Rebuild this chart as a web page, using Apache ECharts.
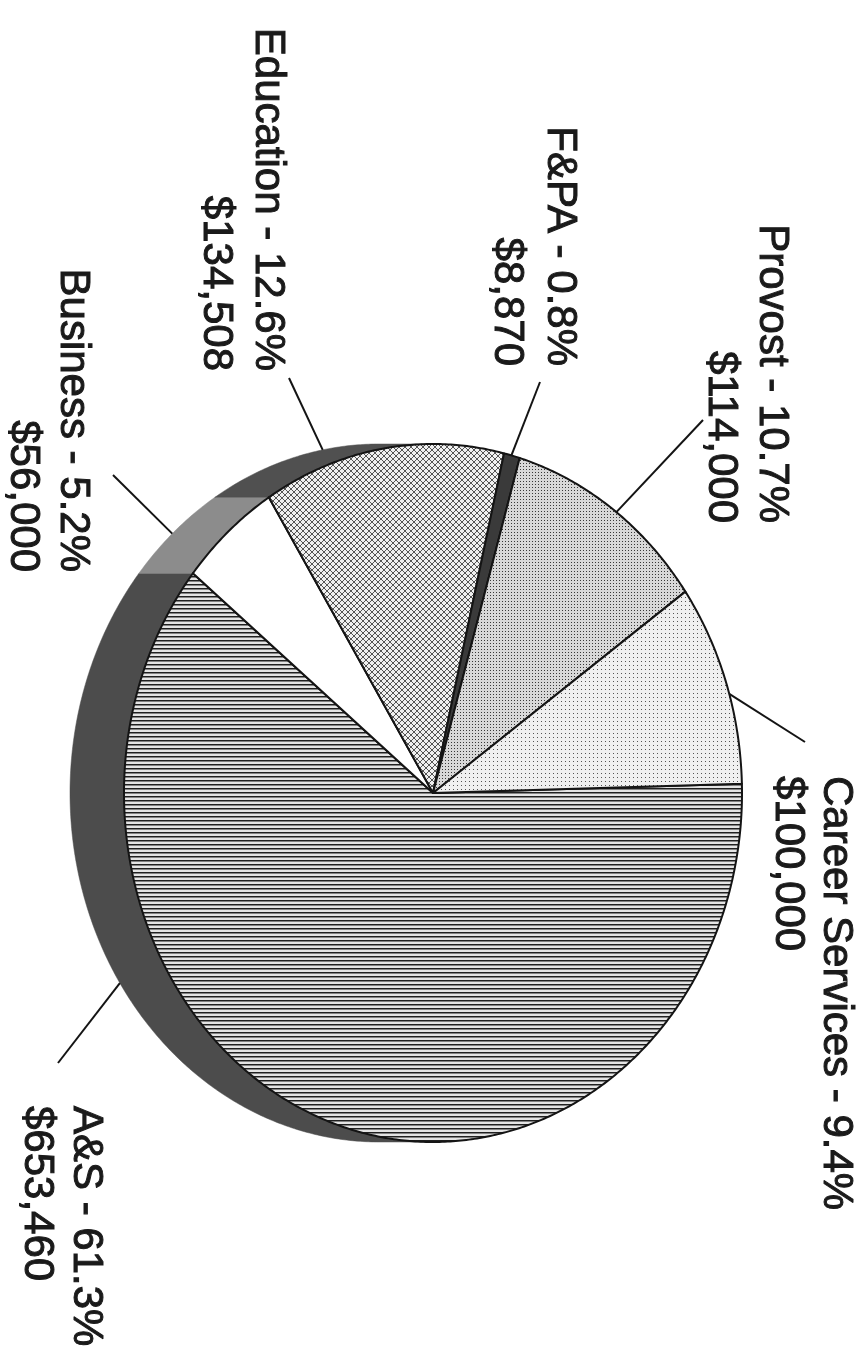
<!DOCTYPE html>
<html>
<head>
<meta charset="utf-8">
<script src="https://cdn.jsdelivr.net/npm/echarts/dist/echarts.min.js"></script>
<style>
  html, body { margin: 0; padding: 0; background: #fff; }
  #chart { width: 867px; height: 1362px; }
</style>
</head>
<body>
<div id="chart"></div>
<script>
// Funding by unit
const categories = ['A&S', 'Business', 'Education', 'F&PA', 'Provost', 'Career Services'];
const amounts = [653460, 56000, 134508, 8870, 114000, 100000];

// Pie geometry (the chart is laid out sideways, reading top to bottom)
const START_DEG = -1.5;   // first slice edge, clockwise from page right
const DEPTH = 54;         // thickness of the extruded rim, px

// Leader lines and label anchors, px
const labelLayout = {
  'A&S':             { rimDeg: 147,   end: [58, 1063], x1: 86,  x2: 37,  y: 1106, align: 'left'  },
  'Business':        { rimDeg: 228,   end: [113, 475], x1: 73,  x2: 23,  y: 572,  align: 'right' },
  'Education':       { rimDeg: 259.5, end: [289, 378], x1: 268, x2: 216, y: 371,  align: 'right' },
  'F&PA':            { rimDeg: 284.7, end: [540, 382], x1: 560, x2: 507, y: 366,  align: 'right' },
  'Provost':         { rimDeg: 306.4, end: [703, 420], x1: 772, x2: 721, y: 523,  align: 'right' },
  'Career Services': { rimDeg: 343.5, end: [805, 742], x1: 836, x2: 788, y: 776,  align: 'left'  }
};

function makePattern(w, h, draw) {
  const c = document.createElement('canvas');
  c.width = w; c.height = h;
  draw(c.getContext('2d'), w, h);
  return { image: c, repeat: 'repeat' };
}

const fills = {
  'A&S': makePattern(4, 4, (g) => {
    g.fillStyle = '#e4e4e4'; g.fillRect(0, 0, 4, 4);
    g.fillStyle = '#202020'; g.fillRect(0, 0, 4, 1);
    g.fillStyle = '#828282'; g.fillRect(0, 1, 4, 1);
  }),
  'Business': '#ffffff',
  'Education': makePattern(6, 6, (g) => {
    g.fillStyle = '#f0f0f0'; g.fillRect(0, 0, 6, 6);
    g.strokeStyle = '#555555'; g.lineWidth = 1;
    g.beginPath(); g.moveTo(0, 0); g.lineTo(6, 6); g.moveTo(6, 0); g.lineTo(0, 6); g.stroke();
  }),
  'F&PA': '#3a3a3a',
  'Provost': makePattern(3, 3, (g) => {
    g.fillStyle = '#d8d8d8'; g.fillRect(0, 0, 3, 3);
    g.fillStyle = '#383838'; g.fillRect(1, 1, 1, 1);
  }),
  'Career Services': makePattern(4, 4, (g) => {
    g.fillStyle = '#f0f0f0'; g.fillRect(0, 0, 4, 4);
    g.fillStyle = '#555555'; g.fillRect(1, 1, 1, 1);
  })
};
const wallColors = { 'A&S': '#4c4c4c', 'Business': '#8c8c8c', 'Education': '#505050' };

const total = amounts.reduce((a, b) => a + b, 0);
const spans = [];
let acc = START_DEG;
amounts.forEach((v) => {
  const sweep = v / total * 360;
  spans.push([acc, acc + sweep]);
  acc += sweep;
});

const DEG = Math.PI / 180;
function rimPoint(api, deg, shift) {
  const p = api.coord([Math.cos(deg * DEG), Math.sin(deg * DEG)]);
  return [p[0] - shift, p[1]];
}
function arc(api, a0, a1, shift) {
  const n = Math.max(2, Math.ceil(Math.abs(a1 - a0) * 2));
  const pts = [];
  for (let i = 0; i <= n; i++) pts.push(rimPoint(api, a0 + (a1 - a0) * i / n, shift));
  return pts;
}

function renderWall(params, api) {
  const i = params.dataIndex;
  const name = categories[i];
  const [a0, a1] = spans[i];
  const b0 = Math.max(a0, 90), b1 = Math.min(a1, 270);
  if (b1 <= b0) return null;
  const pts = arc(api, b0, b1, 0).concat(arc(api, b1, b0, DEPTH));
  const col = wallColors[name] || '#555555';
  return {
    type: 'polygon',
    shape: { points: pts },
    style: { fill: col, stroke: col, lineWidth: 0.5 }
  };
}

function renderFace(params, api) {
  const i = params.dataIndex;
  const name = categories[i];
  const [a0, a1] = spans[i];
  const c = api.coord([0, 0]);
  const pts = [c].concat(arc(api, a0, a1, 0));
  return {
    type: 'polygon',
    shape: { points: pts },
    style: { fill: fills[name], stroke: '#141414', lineWidth: 2, lineJoin: 'round' }
  };
}

function renderLabel(params, api) {
  const i = params.dataIndex;
  const name = categories[i];
  const v = amounts[i];
  const L = labelLayout[name];
  const start = rimPoint(api, L.rimDeg, Math.cos(L.rimDeg * DEG) < 0 ? DEPTH : 0);
  const pct = (v / total * 100).toFixed(1);
  const font = '42px "Liberation Sans", Arial, Helvetica, sans-serif';
  const textStyle = (text) => ({
    text: text, font: font, fill: '#1a1a1a',
    stroke: '#1a1a1a', lineWidth: 1,
    align: L.align, verticalAlign: 'middle'
  });
  return {
    type: 'group',
    children: [
      { type: 'polyline', shape: { points: [start, L.end] },
        style: { stroke: '#141414', lineWidth: 2, fill: null } },
      { type: 'text', x: L.x1, y: L.y, rotation: -Math.PI / 2,
        style: textStyle(name + ' - ' + pct + '%') },
      { type: 'text', x: L.x2, y: L.y, rotation: -Math.PI / 2,
        style: textStyle('$' + v.toLocaleString('en-US')) }
    ]
  };
}

const seriesData = amounts.map((v, i) => ({ name: categories[i], value: [0, 0, v] }));

const chart = echarts.init(document.getElementById('chart'), null, { renderer: 'canvas' });
chart.setOption({
  backgroundColor: '#ffffff',
  animation: false,
  grid: { left: 124, right: 125, top: 444, bottom: 220 },
  xAxis: { type: 'value', min: -1, max: 1, show: false },
  yAxis: { type: 'value', min: -1, max: 1, inverse: true, show: false },
  series: [
    { type: 'custom', name: 'rim', renderItem: renderWall, data: seriesData, z: 1, silent: true,
      encode: { x: 0, y: 1 } },
    { type: 'custom', name: 'slices', renderItem: renderFace, data: seriesData, z: 2, silent: true,
      encode: { x: 0, y: 1 } },
    { type: 'custom', name: 'labels', renderItem: renderLabel, data: seriesData, z: 3, silent: true,
      encode: { x: 0, y: 1 } }
  ]
});
</script>
</body>
</html>
